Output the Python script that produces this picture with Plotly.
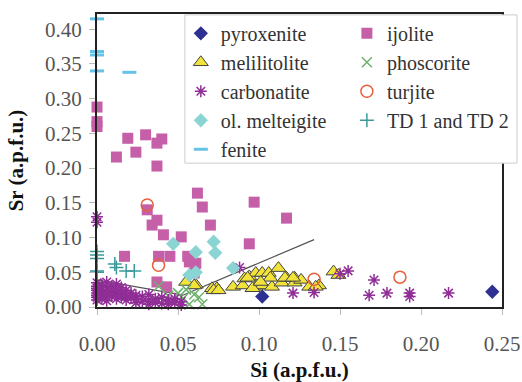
import plotly.graph_objects as go

# ---- data (Si, Sr in a.p.f.u.) ----
pyroxenite_x = [0.102, 0.244]
pyroxenite_y = [0.015, 0.022]

ijolite_x = [0.0, 0.0, 0.0, 0.019, 0.012, 0.024, 0.030, 0.037, 0.040, 0.037, 0.062, 0.065, 0.097, 0.117,
             0.070, 0.031, 0.037, 0.034, 0.041, 0.052, 0.094, 0.017, 0.038, 0.045, 0.056, 0.061, 0.057,
             0.037, 0.043, 0.060, 0.058]
ijolite_y = [0.288, 0.267, 0.260, 0.243, 0.216, 0.223, 0.248, 0.236, 0.242, 0.203, 0.164, 0.144, 0.151, 0.128,
             0.118, 0.140, 0.125, 0.118, 0.104, 0.101, 0.091, 0.073, 0.073, 0.073, 0.073, 0.063, 0.065,
             0.036, 0.029, 0.049, 0.069]

melilitolite_x = [0.055, 0.061, 0.071, 0.074, 0.072, 0.075, 0.084, 0.090, 0.091, 0.094, 0.098, 0.098, 0.102,
                  0.102, 0.106, 0.108, 0.112, 0.114, 0.117, 0.122, 0.122, 0.126, 0.131, 0.137, 0.146, 0.149,
                  0.107, 0.096, 0.101, 0.116, 0.121, 0.135, 0.060, 0.093]
melilitolite_y = [0.036, 0.032, 0.027, 0.027, 0.024, 0.024, 0.029, 0.031, 0.041, 0.044, 0.049, 0.029, 0.031,
                  0.049, 0.049, 0.029, 0.056, 0.035, 0.042, 0.042, 0.035, 0.039, 0.029, 0.031, 0.051, 0.046,
                  0.042, 0.027, 0.036, 0.042, 0.042, 0.029, 0.031, 0.042]

phoscorite_x = [0.038, 0.044, 0.050, 0.053, 0.057, 0.060, 0.063, 0.065, 0.055]
phoscorite_y = [0.030, 0.016, 0.020, 0.012, 0.004, 0.018, 0.014, 0.004, 0.025]

carbonatite_x = [0.0, 0.0, 0.0, 0.0, 0.0, 0.0, 0.0, 0.0,
                 0.003, 0.003, 0.003, 0.003,
                 0.006, 0.006, 0.006, 0.006, 0.006,
                 0.009, 0.009, 0.009,
                 0.012, 0.012, 0.012, 0.012,
                 0.015, 0.015, 0.015,
                 0.018, 0.018, 0.018,
                 0.021, 0.021,
                 0.024, 0.024, 0.024,
                 0.028, 0.028,
                 0.032, 0.032, 0.032,
                 0.036, 0.036, 0.040, 0.040, 0.044, 0.044, 0.048, 0.048, 0.052, 0.052,
                 0.0, 0.0, 0.088, 0.121, 0.134, 0.150, 0.155, 0.171, 0.168, 0.179, 0.193, 0.193, 0.217]
carbonatite_y = [0.035, 0.030, 0.027, 0.024, 0.020, 0.017, 0.014, 0.010,
                 0.032, 0.025, 0.018, 0.012,
                 0.036, 0.028, 0.021, 0.015, 0.009,
                 0.030, 0.022, 0.016,
                 0.033, 0.026, 0.019, 0.012,
                 0.028, 0.020, 0.014,
                 0.024, 0.016, 0.010,
                 0.020, 0.013,
                 0.017, 0.011, 0.006,
                 0.015, 0.008,
                 0.018, 0.010, 0.004,
                 0.012, 0.006, 0.014, 0.005, 0.010, 0.004, 0.012, 0.006, 0.008, 0.003,
                 0.130, 0.122, 0.057, 0.020, 0.021, 0.048, 0.052, 0.039, 0.017, 0.020, 0.020, 0.015, 0.020]

turjite_x = [0.031, 0.038, 0.134, 0.187]
turjite_y = [0.147, 0.060, 0.040, 0.043]

melteigite_x = [0.047, 0.061, 0.072, 0.073, 0.061, 0.057, 0.084]
melteigite_y = [0.091, 0.079, 0.094, 0.078, 0.050, 0.046, 0.056]

td_x = [0.0, 0.0, 0.0, 0.0, 0.0, 0.011, 0.012, 0.018, 0.023]
td_y = [0.080, 0.075, 0.070, 0.052, 0.050, 0.062, 0.057, 0.052, 0.052]

fenite_x = [0.0, 0.0, 0.0, 0.0, 0.020]
fenite_y = [0.415, 0.368, 0.363, 0.340, 0.338]

trend_x = [0.0, 0.053, 0.134]
trend_y = [0.039, 0.017, 0.097]

x_ticks = [0.0, 0.05, 0.10, 0.15, 0.20, 0.25]
y_ticks = [0.0, 0.05, 0.10, 0.15, 0.20, 0.25, 0.30, 0.35, 0.40]

FONT = "Liberation Serif"

fig = go.Figure()

fig.add_trace(go.Scatter(x=trend_x, y=trend_y, mode="lines", showlegend=False,
                         line=dict(color="#555555", width=1.2), hoverinfo="skip"))

def add(name, xs, ys, legend, **marker):
    fig.add_trace(go.Scatter(x=xs, y=ys, mode="markers", name=name, marker=marker,
                             cliponaxis=False, legend=legend))

add("pyroxenite", pyroxenite_x, pyroxenite_y, "legend", symbol="diamond", size=11, color="#2e3192")
add("ijolite", ijolite_x, ijolite_y, "legend2", symbol="square", size=11, color="#c55fa8")
add("melilitolite", melilitolite_x, melilitolite_y, "legend", symbol="triangle-up", size=13, color="#f2e33a",
    line=dict(color="#444444", width=1))
add("phoscorite", phoscorite_x, phoscorite_y, "legend2", symbol="x-thin-open", size=10, color="#6db36d",
    line=dict(color="#6db36d", width=1.5))
add("carbonatite", carbonatite_x, carbonatite_y, "legend", symbol="asterisk-open", size=10, color="#902d96",
    line=dict(color="#902d96", width=1.5))
add("turjite", turjite_x, turjite_y, "legend2", symbol="circle-open", size=12, color="#e8603c",
    line=dict(color="#e8603c", width=1.5))
add("ol. melteigite", melteigite_x, melteigite_y, "legend", symbol="diamond", size=11, color="#8ad5d3")
add("TD 1 and TD 2", td_x, td_y, "legend2", symbol="cross-thin-open", size=10, color="#3a9a9a",
    line=dict(color="#3a9a9a", width=1.5))
add("fenite", fenite_x, fenite_y, "legend", symbol="line-ew-open", size=10, color="#66c3e8",
    line=dict(color="#66c3e8", width=3))

axis_common = dict(showgrid=False, zeroline=False, showline=True, linecolor="#222222", linewidth=2,
                   mirror=True, ticks="outside", ticklen=6, tickcolor="#bbbbbb", tickwidth=1,
                   automargin=False,
                   tickfont=dict(family=FONT, size=21, color="#555555"))

fig.update_xaxes(range=[0, 0.25], tickvals=x_ticks, tickformat=".2f", ticklabelstandoff=11,
                 title=dict(text="<b>Si (a.p.f.u.)</b>", font=dict(family=FONT, size=21, color="#111111"),
                            standoff=30),
                 **axis_common)
fig.update_yaxes(range=[0, 0.422], tickvals=y_ticks, tickformat=".2f", ticklabelstandoff=3,
                 title=dict(text="<b>Sr (a.p.f.u.)</b>", font=dict(family=FONT, size=21, color="#111111"),
                            standoff=16),
                 **axis_common)

leg_common = dict(orientation="v", xanchor="left", yanchor="top", bgcolor="rgba(0,0,0,0)",
                  borderwidth=0, font=dict(family=FONT, size=20, color="#333333"),
                  itemwidth=30, tracegroupgap=0)

fig.update_layout(
    width=522, height=382,
    margin=dict(l=97, r=20, t=14, b=75, autoexpand=False),
    paper_bgcolor="white", plot_bgcolor="white",
    font=dict(family=FONT, size=21, color="#333333"),
    legend=dict(x=0.207, y=1.0007, **leg_common),
    legend2=dict(x=0.617, y=1.0007, **leg_common),
    shapes=[dict(type="rect", xref="paper", yref="paper", x0=0.217, x1=1.037, y0=0.491, y1=0.997,
                 fillcolor="white", line=dict(color="#cccccc", width=1), layer="above")],
)

fig.write_html("out.html")
